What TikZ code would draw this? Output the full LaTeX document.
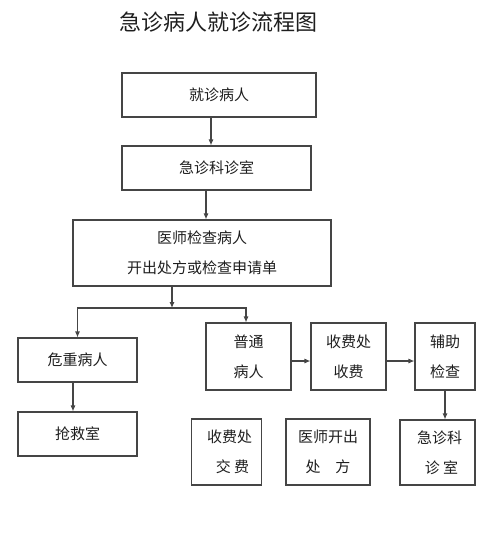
\documentclass[tikz,border=0pt]{standalone}
\usepackage{fontspec}
\newfontfamily\cjk{Noto Sans CJK SC}
\usetikzlibrary{arrows.meta}
\definecolor{linec}{HTML}{454545}
\definecolor{txtc}{HTML}{1E1E1E}
\begin{document}
\begin{tikzpicture}[x=1pt,y=-1pt,
  box/.style={draw=linec,line width=1.05pt,rectangle,inner sep=0pt,text=txtc,align=center,
    font=\cjk\fontsize{15}{30}\selectfont},
  arr/.style={draw=linec,line width=1.05pt,-{Latex[length=6pt,width=5pt]}},
  ttl/.style={text=txtc,font=\cjk\fontsize{22}{26}\selectfont,inner sep=0pt}]
\useasboundingbox (0,0) rectangle (494,534);
\node[ttl] (title) at (218,22) {急诊病人就诊流程图};
\node[box,minimum width=194pt,minimum height=44pt] (b1) at (219,95) {就诊病人};
\node[box,minimum width=189pt,minimum height=44pt] (b2) at (216.5,168) {急诊科诊室};
\node[box,minimum width=258pt,minimum height=66pt] (b3) at (202,253) {医师检查病人\\开出处方或检查申请单};
\node[box,minimum width=119pt,minimum height=44pt] (crit) at (77.5,360) {危重病人};
\node[box,minimum width=119pt,minimum height=44pt] (resc) at (77.5,434) {抢救室};
\node[box,minimum width=85pt,minimum height=67pt] (norm) at (248.5,356.5) {普通\\病人};
\node[box,minimum width=75pt,minimum height=67pt] (chg) at (348.5,356.5) {收费处\\收费};
\node[box,minimum width=60pt,minimum height=67pt] (aux) at (445,356.5) {辅助\\检查};
\node[box,minimum width=75pt,minimum height=65pt] (em2) at (437.5,452.5) {\hspace*{4pt}急诊科\\\hspace*{8pt}诊\ 室};
\node[box,minimum width=70pt,minimum height=66pt] (pay) at (226.5,452) {\hspace*{6pt}收费处\\\hspace*{12pt}交\ 费};
\node[box,minimum width=84pt,minimum height=66pt] (presc) at (328,452) {医师开出\\处\quad 方};
\coordinate (br) at (172,308);
\draw[arr] ([xshift=-8pt]b1.south) -- ([xshift=-8pt]b1.south |- b2.north);
\draw[arr] ([xshift=-10.5pt]b2.south) -- ([xshift=-10.5pt]b2.south |- b3.north);
\draw[arr] ([xshift=-30pt]b3.south) -- (br);
\draw[arr] (br) -| (crit.north);
\draw[arr] (br) -| ([xshift=-2.5pt]norm.north);
\draw[arr] ([xshift=-4.5pt]crit.south) -- ([xshift=-4.5pt]crit.south |- resc.north);
\draw[arr] ([yshift=-4.5pt]norm.east) -- ([yshift=-4.5pt]norm.east -| chg.west);
\draw[arr] ([yshift=-4.5pt]chg.east) -- ([yshift=-4.5pt]chg.east -| aux.west);
\draw[arr] (aux.south) -- (aux.south |- em2.north);
\end{tikzpicture}
\end{document}
